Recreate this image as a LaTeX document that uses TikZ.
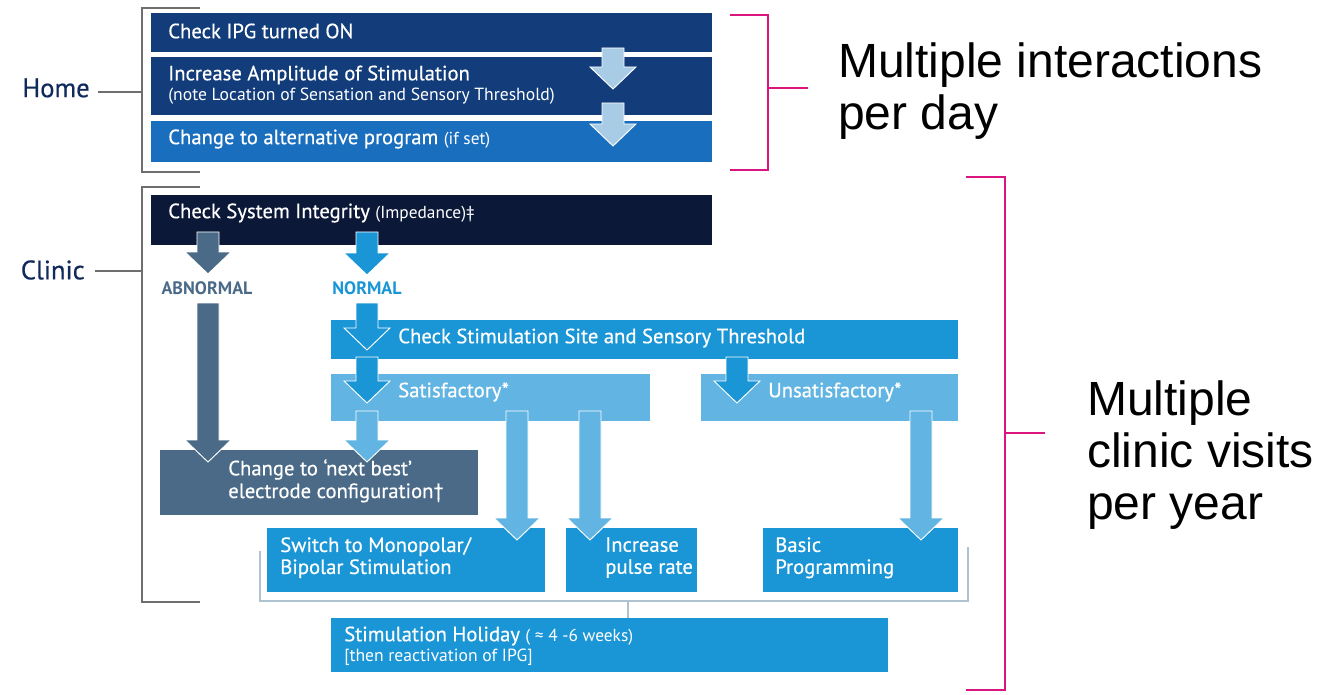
\documentclass[tikz,border=0pt]{standalone}
\usepackage{fontspec}
\setmainfont{PT Sans}
\newfontfamily\medf[FakeBold=0.5]{PT Sans}
\newfontfamily\arialf{Liberation Sans}
\usetikzlibrary{calc}
\definecolor{navyA}{HTML}{123C7A}
\definecolor{blueH}{HTML}{1A6EBE}
\definecolor{lightA}{HTML}{A8CBE6}
\definecolor{darkN}{HTML}{0B1838}
\definecolor{slate}{HTML}{4B6A87}
\definecolor{midB}{HTML}{1A95D5}
\definecolor{lightB}{HTML}{62B5E2}
\definecolor{magA}{HTML}{DB157F}
\definecolor{grayL}{HTML}{6E6E6E}
\definecolor{grayB}{HTML}{AFC2D0}
\definecolor{lblN}{HTML}{102A5C}
\newcommand\bx[6]{\node[fill=#6, inner sep=0pt, outer sep=0pt, anchor=north west,
  minimum width={(#4-#2)*0.75pt}, minimum height={(#5-#3)*0.75pt}] (#1) at (#2,#3) {};}
\newcommand\barr[3]{\fill[#1, draw=white, line width=0.7pt, line join=miter]
  ($(#2)+(-11,0)$) -- ($(#3)+(-11,-22)$) -- ($(#3)+(-23,-22)$) -- (#3) --
  ($(#3)+(23,-22)$) -- ($(#3)+(11,-22)$) -- ($(#2)+(11,0)$) -- cycle;}
\newcommand\smallp[1]{{\rmfamily\fontsize{13}{14}\selectfont#1}}
\begin{document}
\begin{tikzpicture}[x=0.75pt,y=-0.75pt,
  txt/.style={text=white, anchor=west, inner sep=0pt, font=\medf\fontsize{15.5}{16.5}\selectfont},
  sub/.style={font=\rmfamily\fontsize{13.2}{14}\selectfont},
  side/.style={text=lblN, anchor=east, inner sep=0pt, font=\medf\fontsize{20}{22}\selectfont},
  grline/.style={draw=grayL, line width=1.1pt},
  magline/.style={draw=magA, line width=2.2pt},
  big/.style={anchor=west, align=left, inner sep=0pt, font=\arialf\fontsize{36}{39}\selectfont}]
\useasboundingbox (0,0) rectangle (1337,695);
% ---------- Home ----------
\bx{b1}{151}{13}{712}{52}{navyA}
\bx{b2}{151}{57}{712}{115}{navyA}
\bx{b3}{151}{121}{712}{162}{blueH}
\node[txt] (t1) at (168,31) {Check IPG turned ON};
\node[txt] (t2) at (168,75) {Increase Amplitude of Stimulation};
\node[txt, sub] (t2b) at (168,96) {(note Location of Sensation and Sensory Threshold)};
\node[txt] (t3) at (168,139) {Change to alternative program \smallp{(if set)}};
\coordinate (a1s) at (613,48); \coordinate (a1e) at (613,89);
\coordinate (a2s) at (613,103); \coordinate (a2e) at (613,146);
\barr{lightA}{a1s}{a1e}
\barr{lightA}{a2s}{a2e}
\node[side] (home) at (90,88) {Home};
\coordinate (hb) at (142,92);
\draw[grline] (home.east) ++(8,4) -- (hb);
\draw[grline] (200,8) -- (142,8) -- (142,172) -- (200,172);
% ---------- Clinic ----------
\bx{cs}{151}{195}{712}{245}{darkN}
\node[txt] (tcs) at (168,213) {Check System Integrity \smallp{(Impedance)‡}};
\node[side] (clinic) at (85,270) {Clinic};
\coordinate (cb) at (142,271);
\draw[grline] (clinic.east) ++(10,1) -- (cb);
\draw[grline] (200,187) -- (142,187) -- (142,602) -- (200,602);
\node[text=slate, inner sep=0pt, font=\bfseries\fontsize{13.5}{15}\selectfont] (abn) at (207,288) {ABNORMAL};
\node[text=midB, inner sep=0pt, font=\bfseries\fontsize{13.5}{15}\selectfont] (nor) at (367,288) {NORMAL};
\bx{css}{331}{320}{958}{359}{midB}
\node[txt] (tcss) at (398,338) {Check Stimulation Site and Sensory Threshold};
\bx{sat}{331}{374}{650}{421}{lightB}
\node[txt] (tsat) at (398,392) {Satisfactory*};
\bx{uns}{701}{374}{958}{421}{lightB}
\node[txt] (tuns) at (768,392) {Unsatisfactory*};
\bx{nb}{160}{450}{478}{515}{slate}
\node[txt, align=left, anchor=north west, font=\medf\fontsize{15.5}{17}\selectfont] (tnb) at (228,459) {Change to ‘next best’\\electrode configuration†};
\bx{mono}{267}{528}{545}{592}{midB}
\node[txt, align=left, anchor=north west, font=\medf\fontsize{15.5}{16.5}\selectfont] (tmono) at (280,537) {Switch to Monopolar/\\Bipolar Stimulation};
\bx{pulse}{566}{528}{697}{592}{midB}
\node[txt, align=left, anchor=north west, font=\medf\fontsize{15.5}{16.5}\selectfont] (tpulse) at (605,537) {Increase\\pulse rate};
\bx{basic}{763}{528}{958}{592}{midB}
\node[txt, align=left, anchor=north west, font=\medf\fontsize{15.5}{16.5}\selectfont] (tbasic) at (775,537) {Basic\\Programming};
\bx{hol}{331}{618}{888}{672}{midB}
\node[txt] (thol) at (344,636) {Stimulation Holiday \smallp{( ≈ 4 -6 weeks)}};
\node[txt, sub] (thol2) at (344,657) {[then reactivation of IPG]};
% thin grey bracket
\coordinate (gl) at (260,551); \coordinate (gr) at (968,547); \coordinate (gm) at (628,601);
\draw[draw=grayB, line width=1pt] (gl) -- (260,601) -- (968,601) -- (gr);
\draw[draw=grayB, line width=1pt] (gm) -- (hol.north -| gm);
% arrows
\coordinate (ab1s) at (208,232); \coordinate (ab1e) at (208,274);
\coordinate (no1s) at (367,232); \coordinate (no1e) at (367,275);
\coordinate (ab2s) at (208,303); \coordinate (ab2e) at (208,462);
\coordinate (no2s) at (367,303); \coordinate (no2e) at (367,350);
\coordinate (s1s) at (367,357); \coordinate (s1e) at (367,403);
\coordinate (u1s) at (737,357); \coordinate (u1e) at (737,403);
\coordinate (s2s) at (367,411); \coordinate (s2e) at (367,462);
\coordinate (s3s) at (517,411); \coordinate (s3e) at (517,540);
\coordinate (s4s) at (590,411); \coordinate (s4e) at (590,540);
\coordinate (u2s) at (921,411); \coordinate (u2e) at (921,540);
\barr{slate}{ab1s}{ab1e}
\barr{midB}{no1s}{no1e}
\barr{slate}{ab2s}{ab2e}
\barr{midB}{no2s}{no2e}
\barr{midB}{s1s}{s1e}
\barr{midB}{u1s}{u1e}
\barr{lightB}{s2s}{s2e}
\barr{lightB}{s3s}{s3e}
\barr{lightB}{s4s}{s4e}
\barr{lightB}{u2s}{u2e}
% magenta brackets
\coordinate (m1) at (808,88);
\draw[magline] (730,15) -- (768,15) -- (768,170) -- (730,170);
\draw[magline] (768,88) -- (m1);
\node[big] (r1) at (838,91) {Multiple interactions\\per day};
\coordinate (m2) at (1045,433);
\draw[magline] (966,177) -- (1005,177) -- (1005,690) -- (966,690);
\draw[magline] (1005,433) -- (m2);
\node[big] (r2) at (1087,455) {Multiple\\clinic visits\\per year};
\end{tikzpicture}
\end{document}
